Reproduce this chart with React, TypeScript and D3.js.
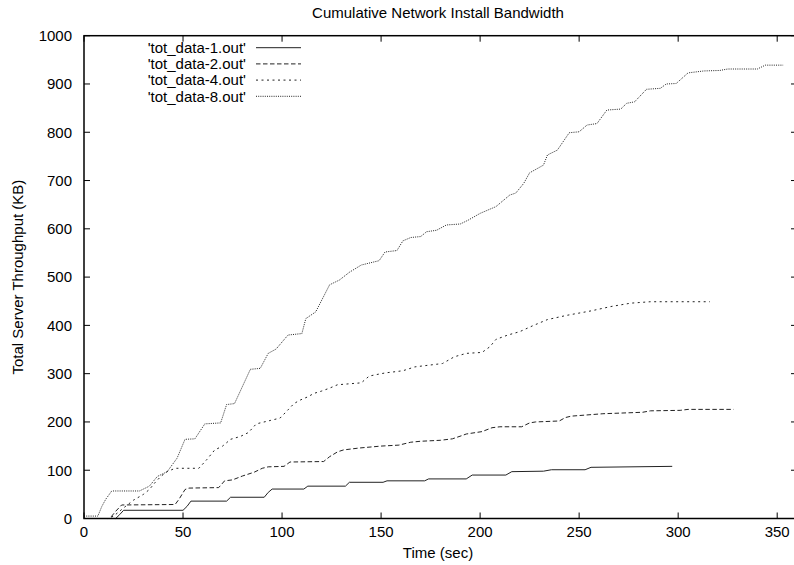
import React from 'react';
import * as d3 from 'd3';

// series: [time (sec), cumulative KB]
const data1: [number, number][] = [
  [0, 0], [16, 0], [18, 8], [20, 17], [50, 17], [52, 25], [54, 36], [72, 36], [74, 44], [91, 44],
  [93, 54], [95, 61], [111, 61], [113, 67], [132, 67], [134, 75], [151, 75], [153, 78], [172, 78],
  [174, 82], [193, 82], [196, 90], [213, 90], [216, 97], [232, 98], [236, 101], [253, 101],
  [256, 106], [297, 108]
];
const data2: [number, number][] = [
  [0, 0], [13, 0], [16, 15], [19, 28], [46, 29], [48, 40], [51, 60], [53, 63], [68, 64], [71, 78],
  [75, 80], [80, 88], [86, 96], [90, 104], [93, 107], [101, 108], [104, 117], [121, 118], [124, 128],
  [128, 138], [131, 142], [139, 146], [150, 150], [159, 152], [165, 158], [170, 160], [180, 162],
  [186, 165], [191, 172], [193, 175], [201, 180], [206, 188], [210, 190], [221, 190], [225, 198],
  [228, 200], [240, 202], [243, 209], [246, 212], [262, 217], [282, 220], [286, 223], [301, 224],
  [305, 226], [328, 226]
];
const data4: [number, number][] = [
  [0, 0], [12, 0], [15, 5], [20, 22], [25, 38], [30, 50], [33, 60], [36, 75], [39, 88], [42, 97],
  [46, 104], [58, 104], [62, 122], [66, 142], [70, 150], [74, 164], [79, 170], [83, 178], [87, 196],
  [94, 203], [99, 208], [103, 225], [106, 238], [109, 245], [113, 252], [116, 259], [120, 264],
  [124, 270], [128, 277], [140, 281], [144, 295], [150, 300], [153, 302], [161, 306], [167, 314],
  [181, 321], [187, 335], [193, 342], [201, 344], [205, 356], [208, 371], [214, 380], [220, 387],
  [227, 400], [234, 412], [244, 421], [256, 430], [266, 439], [276, 446], [286, 449], [316, 449]
];
const data8: [number, number][] = [
  [0, 5], [7, 5], [9, 25], [11, 40], [14, 57], [28, 57], [33, 67], [37, 87], [42, 97], [47, 125],
  [51, 164], [56, 165], [61, 196], [69, 198], [72, 236], [76, 238], [84, 309], [89, 311], [93, 342],
  [97, 351], [103, 380], [110, 383], [112, 414], [117, 428], [120, 452], [124, 484], [129, 494],
  [134, 510], [140, 525], [149, 534], [152, 552], [158, 555], [161, 575], [165, 582], [170, 584],
  [173, 594], [178, 597], [183, 608], [190, 610], [194, 618], [200, 632], [208, 646], [215, 670],
  [218, 674], [222, 694], [225, 716], [232, 732], [234, 753], [239, 763], [245, 799], [250, 801],
  [254, 815], [259, 818], [264, 846], [271, 848], [274, 860], [278, 863], [284, 889], [291, 891],
  [294, 900], [299, 901], [305, 923], [313, 927], [321, 928], [325, 931], [340, 931], [344, 939],
  [353, 939]
];

const seriesNames = ["'tot_data-1.out'", "'tot_data-2.out'", "'tot_data-4.out'", "'tot_data-8.out'"];
const seriesData = [data1, data2, data4, data8];
const dashes = ['none', '4.5,2.5', '2,3.5', '1,1.2'];

const xTicks = [0, 50, 100, 150, 200, 250, 300, 350];
const yTicks = [0, 100, 200, 300, 400, 500, 600, 700, 800, 900, 1000];

const font = 'Liberation Sans, Arial, Helvetica, sans-serif';

export default function App() {
  const left = 84, right = 797, top = 35.7, bottom = 518.5;
  const tick = 6;
  const fs = 15;

  const x = d3.scaleLinear().domain([0, 360]).range([left, right]);
  const y = d3.scaleLinear().domain([0, 1000]).range([bottom, top]);

  const line = d3.line<[number, number]>()
    .x(d => x(d[0]))
    .y(d => y(d[1]));

  return (
    <svg width={794} height={565} style={{ position: 'absolute', left: 0, top: 0 }} fontFamily={font}>
      <rect width={794} height={565} fill="#fff" />

      <text x={438} y={17.5} fontSize={fs} textAnchor="middle">Cumulative Network Install Bandwidth</text>

      {/* ticks, mirrored on all sides, pointing inward */}
      {xTicks.map(t => (
        <g key={'x' + t}>
          <line x1={x(t)} x2={x(t)} y1={bottom} y2={bottom - tick} stroke="#000" />
          <line x1={x(t)} x2={x(t)} y1={top} y2={top + tick} stroke="#000" />
          <text x={x(t)} y={537} fontSize={fs} textAnchor="middle">{t}</text>
        </g>
      ))}
      {yTicks.map(t => (
        <g key={'y' + t}>
          <line x1={left} x2={left + tick} y1={y(t)} y2={y(t)} stroke="#000" />
          <line x1={right} x2={right - tick} y1={y(t)} y2={y(t)} stroke="#000" />
          <text x={72} y={y(t) + 5.3} fontSize={fs} textAnchor="end">{t}</text>
        </g>
      ))}

      <text x={438} y={558} fontSize={fs} textAnchor="middle">Time (sec)</text>
      <text transform={`translate(22.5,${(top + bottom) / 2}) rotate(-90)`} fontSize={fs} textAnchor="middle">
        Total Server Throughput (KB)
      </text>

      {seriesData.map((d, i) => (
        <path key={i} d={line(d) || ''} fill="none" stroke="#222" strokeWidth={1} strokeDasharray={dashes[i]} />
      ))}

      {/* legend */}
      {seriesNames.map((n, i) => (
        <g key={n}>
          <text x={246} y={47.7 + i * 16.2 + 5.3} fontSize={fs} textAnchor="end">{n}</text>
          <line x1={256} x2={301} y1={47.7 + i * 16.2} y2={47.7 + i * 16.2} stroke="#222" strokeDasharray={dashes[i]} />
        </g>
      ))}

      <rect x={left} y={top} width={right - left} height={bottom - top} fill="none" stroke="#000" strokeWidth={1.5} />
    </svg>
  );
}
